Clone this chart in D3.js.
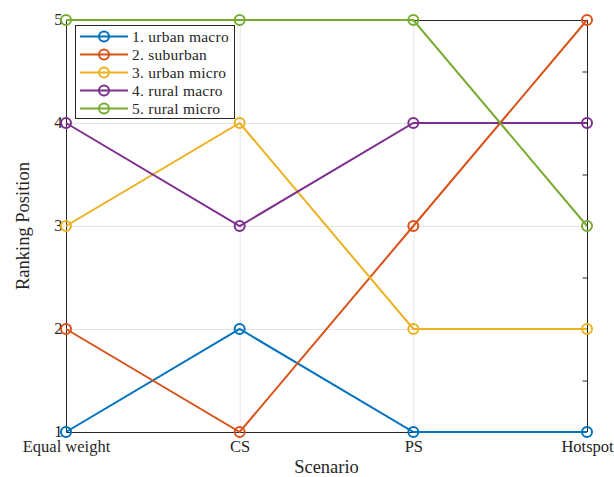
<!DOCTYPE html>
<html>
<head>
<meta charset="utf-8">
<script src="https://cdn.jsdelivr.net/npm/d3@7"></script>
<style>
  html, body { margin: 0; padding: 0; background: #fff; }
  svg { display: block; }
</style>
</head>
<body>
<svg id="chart" width="614" height="477"></svg>
<script>
// Scenarios along the x axis
const scenarios = ["Equal weight", "CS", "PS", "Hotspot"];

// Ranking of each deployment type per scenario
const seriesNames = ["1. urban macro", "2. suburban", "3. urban micro", "4. rural macro", "5. rural micro"];
const urbanMacro = [1, 2, 1, 1];
const suburban   = [2, 1, 3, 5];
const urbanMicro = [3, 4, 2, 2];
const ruralMacro = [4, 3, 4, 4];
const ruralMicro = [5, 5, 5, 3];
const seriesColors = ["#0072BD", "#D95319", "#EDB120", "#7E2F8E", "#77AC30"];

const yTicks = [1, 2, 3, 4, 5];
const rightTicks = [1.5, 2.5, 3.5, 4.5];

const series = [urbanMacro, suburban, urbanMicro, ruralMacro, ruralMicro].map((v, i) => ({
  name: seriesNames[i], values: v, color: seriesColors[i]
}));

const FONT = "'Liberation Serif', 'Times New Roman', serif";
const svg = d3.select("#chart");
const plotL = 66, plotR = 587, plotT = 20, plotB = 432;

const x = d3.scalePoint().domain(scenarios).range([plotL, plotR]);
const y = d3.scaleLinear().domain([1, 5]).range([plotB, plotT]);

// Grid lines
const grid = svg.append("g").attr("stroke", "#e3e3e3").attr("stroke-width", 1);
grid.selectAll("line.h").data(yTicks).join("line")
  .attr("x1", plotL).attr("x2", plotR)
  .attr("y1", d => y(d) + 0.5).attr("y2", d => y(d) + 0.5);
grid.selectAll("line.v").data(scenarios).join("line")
  .attr("y1", plotT).attr("y2", plotB)
  .attr("x1", d => x(d) + 0.5).attr("x2", d => x(d) + 0.5);

// Axes
const axisColor = "#262626";
const gx = svg.append("g").attr("transform", `translate(0,${plotB + 0.5})`)
  .call(d3.axisBottom(x).tickSize(0).tickPadding(8));
const gy = svg.append("g").attr("transform", `translate(${plotL + 0.5},0)`)
  .call(d3.axisLeft(y).tickValues(yTicks).tickFormat(d3.format("d")).tickSize(0).tickPadding(4));
const gr = svg.append("g").attr("transform", `translate(${plotR + 0.5},0)`)
  .call(d3.axisLeft(y).tickValues(rightTicks).tickSize(5).tickFormat(""));
const gt = svg.append("g").attr("transform", `translate(0,${plotT + 0.5})`)
  .call(d3.axisTop(x).tickSize(0).tickFormat(""));

[gx, gy, gr, gt].forEach(g => {
  g.attr("font-family", FONT).attr("font-size", 16.5);
  g.select(".domain").attr("stroke", axisColor).attr("stroke-width", 1);
  g.selectAll(".tick line").attr("stroke", axisColor);
  g.selectAll("text").attr("fill", axisColor);
});
gy.selectAll("text").attr("dy", "0.3em");
gr.select(".domain").attr("d", `M0,${plotT}V${plotB}`);
gy.select(".domain").attr("d", `M0,${plotT}V${plotB}`);
gx.select(".domain").attr("d", `M${plotL},0H${plotR}`);
gt.select(".domain").attr("d", `M${plotL},0H${plotR}`);

// Lines and circle markers
const line = d3.line().x((d, i) => x(scenarios[i])).y(d => y(d));
const plot = svg.append("g");
series.forEach(s => {
  plot.append("path").datum(s.values)
    .attr("d", line).attr("fill", "none")
    .attr("stroke", s.color).attr("stroke-width", 2);
});
series.forEach(s => {
  plot.selectAll(null).data(s.values).join("circle")
    .attr("cx", (d, i) => x(scenarios[i])).attr("cy", d => y(d))
    .attr("r", 5).attr("fill", "none")
    .attr("stroke", s.color).attr("stroke-width", 2);
});

// Axis titles
svg.append("text").attr("x", (plotL + plotR) / 2).attr("y", 473)
  .attr("text-anchor", "middle").attr("font-family", FONT).attr("font-size", 18.5)
  .attr("fill", axisColor).text("Scenario");
svg.append("text").attr("transform", `translate(29,${(plotT + plotB) / 2}) rotate(-90)`)
  .attr("text-anchor", "middle").attr("font-family", FONT).attr("font-size", 18.5)
  .attr("fill", axisColor).text("Ranking Position");

// Legend
const legend = svg.append("g").attr("font-family", FONT).attr("font-size", 15.5)
  .attr("letter-spacing", 0.25);
legend.append("rect").attr("x", 75.5).attr("y", 25.5).attr("width", 159).attr("height", 93)
  .attr("fill", "#fff").attr("stroke", axisColor).attr("stroke-width", 1);
series.forEach((s, i) => {
  const cy = 36.5 + i * 18;
  legend.append("line").attr("x1", 80).attr("x2", 128).attr("y1", cy).attr("y2", cy)
    .attr("stroke", s.color).attr("stroke-width", 2);
  legend.append("circle").attr("cx", 104).attr("cy", cy).attr("r", 5)
    .attr("fill", "none").attr("stroke", s.color).attr("stroke-width", 2);
  legend.append("text").attr("x", 132).attr("y", cy + 5)
    .attr("fill", axisColor).text(s.name);
});
</script>
</body>
</html>
